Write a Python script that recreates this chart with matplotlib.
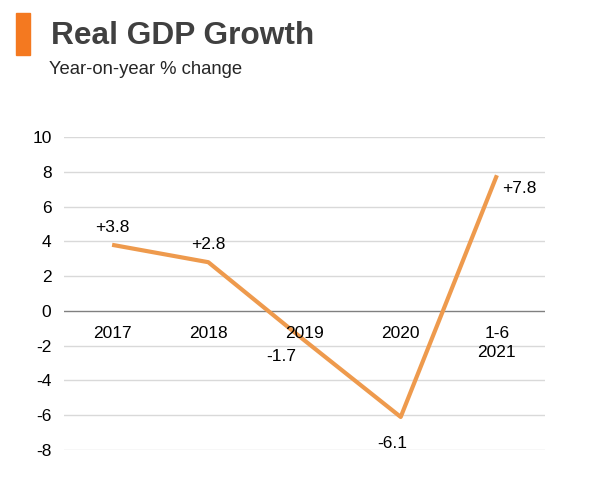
import matplotlib.pyplot as plt
from matplotlib.patches import Rectangle

plt.rcParams['font.family'] = ['Liberation Sans', 'DejaVu Sans']
plt.rcParams['axes.unicode_minus'] = False

# data
periods = ['2017', '2018', '2019', '2020', '1-6\n2021']
growth = [3.8, 2.8, -1.7, -6.1, 7.8]
labels = ['+3.8', '+2.8', '-1.7', '-6.1', '+7.8']
yticks = [-8, -6, -4, -2, 0, 2, 4, 6, 8, 10]

fig = plt.figure(figsize=(5.94, 4.94), dpi=100)
ax = fig.add_axes([64 / 594, 1 - 450 / 494, 481 / 594, 313 / 494])

x = list(range(len(periods)))
ax.plot(x, growth, color='#EE9A4D', lw=3, solid_capstyle='butt', zorder=3)

ax.set_xlim(-0.5, len(periods) - 0.5)
ax.set_ylim(-8, 10)
ax.set_yticks(yticks)
ax.tick_params(axis='y', length=0, pad=9, labelsize=12.5)
ax.set_xticks([])
for s in ax.spines.values():
    s.set_visible(False)
for t in yticks:
    ax.axhline(t, color='#808080' if t == 0 else '#d9d9d9', lw=1, zorder=1)

# category labels sit just under the zero line
for i, p in enumerate(periods):
    ax.annotate(p, (i, 0), xytext=(0, -11), textcoords='offset points',
                ha='center', va='top', fontsize=12.5, linespacing=1.3)

# value labels
offsets = [(0, 7, 'center', 'bottom'), (0, 7, 'center', 'bottom'),
           (-16.5, -11.5, 'center', 'center'), (-6, -14, 'center', 'top'),
           (4, -4, 'left', 'top')]
for i, (v, lab) in enumerate(zip(growth, labels)):
    dx, dy, ha, va = offsets[i]
    ax.annotate(lab, (i, v), xytext=(dx, dy), textcoords='offset points',
                ha=ha, va=va, fontsize=12.5)

# header
fig.patches.append(Rectangle((16 / 594, 1 - 55 / 494), 14 / 594, 42 / 494,
                             transform=fig.transFigure, color='#F47920'))
fig.text(51 / 594, 1 - 36 / 494, 'Real GDP Growth', fontsize=22.8,
         fontweight='bold', color='#404040', va='center')
fig.text(49 / 594, 1 - 70 / 494, 'Year-on-year % change', fontsize=13.3,
         color='#262626', va='center')

fig.savefig('out.png', dpi=100, facecolor='white')
